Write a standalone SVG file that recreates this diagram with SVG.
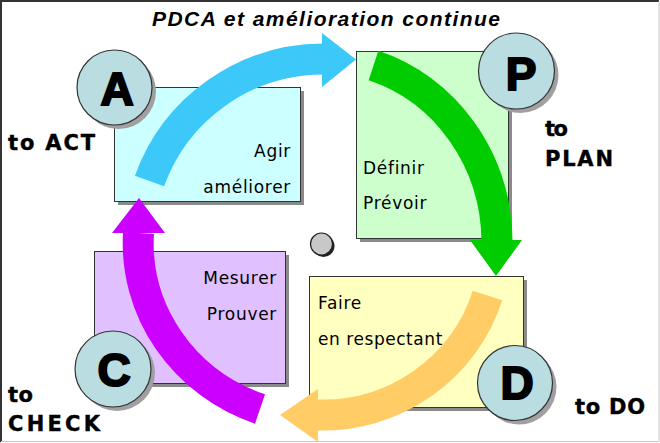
<svg xmlns="http://www.w3.org/2000/svg" width="660" height="443" viewBox="0 0 660 443">
<defs>
<style>
.box{stroke:#333;stroke-width:1}
.shadow{fill:#8a8a8a}
.circ{fill:#badde2;stroke:#333;stroke-width:1.2}
.cshadow{fill:#a0a0a0}
.letter{font-family:"Liberation Sans",Arial,sans-serif;font-weight:bold;font-size:46px;fill:#000;stroke:#000;stroke-width:2;text-anchor:middle}
.lbl{font-family:"DejaVu Sans",Verdana,sans-serif;font-weight:bold;font-size:21px;fill:#000;stroke:#000;stroke-width:0.4}
.txt{font-family:"DejaVu Sans",Verdana,sans-serif;font-size:17px;fill:#000;letter-spacing:0.7px}
.title{font-family:"Liberation Sans",Arial,sans-serif;font-weight:bold;font-style:italic;font-size:21px;fill:#000}
.arr{fill:none;stroke-width:31;stroke-linecap:butt}
</style>
</defs>
<rect x="0" y="0" width="660" height="443" fill="#fff"/>
<path d="M1,442 V1 H659" fill="none" stroke="#333" stroke-width="2"/>
<path d="M659,1 V441.5 H1" fill="none" stroke="#c8c8c8" stroke-width="1"/>

<text class="title" x="152" y="26" textLength="348" lengthAdjust="spacing">PDCA et amélioration continue</text>

<g id="box-act">
<rect class="shadow" x="118" y="91" width="186" height="114"/>
<rect class="box" x="114.5" y="87.5" width="186" height="114" fill="#ccffff"/>
</g>
<g id="box-plan">
<rect class="shadow" x="360" y="55" width="152" height="187"/>
<rect class="box" x="356.5" y="51.5" width="152" height="187" fill="#ccffcc"/>
</g>
<g id="box-check">
<rect class="shadow" x="98" y="255" width="191" height="132"/>
<rect class="box" x="94.5" y="251.5" width="191" height="132" fill="#e0c0ff"/>
</g>
<g id="box-do">
<rect class="shadow" x="313" y="280" width="214" height="131"/>
<rect class="box" x="309.5" y="276.5" width="214" height="131" fill="#ffffc0"/>
</g>

<g id="connectors">
<path class="arr" stroke="#3cc8f8" d="M149.5,181 A185,184 0 0 1 323,59"/>
<polygon fill="#3cc8f8" points="322,33 356,59.5 322,87"/>
<path class="arr" stroke="#00cc00" d="M373.5,65.5 A176,186 0 0 1 497,241"/>
<polygon fill="#00cc00" points="470,240 522,240 496,276"/>
<path class="arr" stroke="#ffcc66" d="M487.5,295.5 A173,172 0 0 1 317,415"/>
<polygon fill="#ffcc66" points="318,389 318,442 280,415"/>
<path class="arr" stroke="#cc00ff" d="M260,409 A183,176 0 0 1 138.5,233"/>
<polygon fill="#cc00ff" points="112,233 165,233 139,198"/>
</g>

<g id="center-dot">
<circle cx="323.5" cy="246" r="11" fill="#222"/>
<circle cx="321.5" cy="244" r="11" fill="#c8c8c8" stroke="#222" stroke-width="1.2"/>
</g>

<g id="node-act">
<circle class="cshadow" cx="118.5" cy="91.5" r="37.5"/>
<circle class="circ" cx="114.5" cy="87.5" r="37.5"/>
<text class="letter" x="117" y="105">A</text>
<text class="txt" x="291" y="157" text-anchor="end">Agir</text>
<text class="txt" x="291" y="193" text-anchor="end">améliorer</text>
<text class="lbl" x="8" y="150" textLength="87" lengthAdjust="spacing">to ACT</text>
</g>
<g id="node-plan">
<circle class="cshadow" cx="520.5" cy="75" r="38"/>
<circle class="circ" cx="516.5" cy="71" r="38"/>
<text class="letter" x="521" y="90">P</text>
<text class="txt" x="363" y="174">Définir</text>
<text class="txt" x="363" y="209">Prévoir</text>
<text class="lbl" x="545" y="136" textLength="23" lengthAdjust="spacing">to</text>
<text class="lbl" x="545" y="166" textLength="68" lengthAdjust="spacing">PLAN</text>
</g>
<g id="node-check">
<circle class="cshadow" cx="117" cy="373" r="38"/>
<circle class="circ" cx="113" cy="369" r="38"/>
<text class="letter" x="114" y="386">C</text>
<text class="txt" x="277" y="284" text-anchor="end">Mesurer</text>
<text class="txt" x="277" y="320" text-anchor="end">Prouver</text>
<text class="lbl" x="8" y="402" textLength="25" lengthAdjust="spacing">to</text>
<text class="lbl" x="8" y="431" textLength="92" lengthAdjust="spacing">CHECK</text>
</g>
<g id="node-do">
<circle class="cshadow" cx="519" cy="387" r="37.5"/>
<circle class="circ" cx="515" cy="383" r="37.5"/>
<text class="letter" x="517" y="399">D</text>
<text class="txt" x="318" y="309">Faire</text>
<text class="txt" x="318" y="345" textLength="125" lengthAdjust="spacing">en respectant</text>
<text class="lbl" x="575" y="414" textLength="70" lengthAdjust="spacing">to DO</text>
</g>
</svg>
